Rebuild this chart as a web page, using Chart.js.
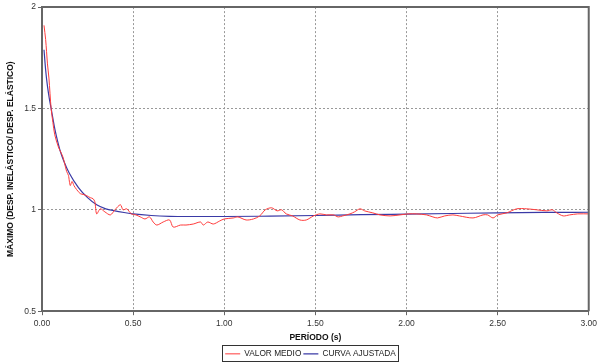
<!DOCTYPE html>
<html>
<head>
<meta charset="utf-8">
<script src="https://cdn.jsdelivr.net/npm/chart.js@4"></script>
<style>
    html, body { margin: 0; padding: 0; background: #fff; }
    #wrap { width: 600px; height: 363px; }
</style>
</head>
<body>
<div id="wrap"><canvas id="chart" width="600" height="363"></canvas></div>
<script>
// valor medio (red)
const redPeriod = [0.011, 0.02, 0.03, 0.038, 0.05, 0.06, 0.07, 0.09, 0.10, 0.115, 0.135, 0.145, 0.155, 0.165, 0.175, 0.19,
    0.21, 0.23, 0.245, 0.265, 0.28, 0.29, 0.30, 0.32, 0.345, 0.375, 0.40, 0.43, 0.445, 0.465, 0.49, 0.515, 0.54, 0.565,
    0.59, 0.61, 0.63, 0.665, 0.70, 0.72, 0.76, 0.79, 0.83, 0.87, 0.885, 0.91, 0.94, 0.975, 1.00, 1.05, 1.075, 1.12, 1.16,
    1.195, 1.225, 1.26, 1.29, 1.315, 1.34, 1.375, 1.415, 1.45, 1.49, 1.525, 1.56, 1.60, 1.625, 1.65, 1.69, 1.715, 1.745,
    1.77, 1.815, 1.855, 1.91, 1.965, 2.01, 2.055, 2.11, 2.145, 2.17, 2.21, 2.255, 2.29, 2.365, 2.42, 2.445, 2.475, 2.50,
    2.55, 2.605, 2.66, 2.715, 2.77, 2.80, 2.825, 2.86, 2.895, 2.94, 3.00];
const redValue = [1.91, 1.84, 1.72, 1.65, 1.50, 1.43, 1.37, 1.31, 1.29, 1.26, 1.19, 1.17, 1.12, 1.14, 1.12, 1.10,
    1.08, 1.075, 1.07, 1.06, 1.055, 1.04, 0.98, 1.005, 0.99, 0.975, 1.00, 1.025, 1.00, 1.005, 0.98, 0.975, 0.965, 0.955,
    0.965, 0.94, 0.925, 0.94, 0.95, 0.915, 0.925, 0.925, 0.93, 0.94, 0.925, 0.94, 0.93, 0.945, 0.955, 0.96, 0.965, 0.95, 0.955,
    0.97, 1.0, 1.01, 0.995, 1.0, 0.98, 0.97, 0.95, 0.95, 0.97, 0.98, 0.975, 0.975, 0.965, 0.97, 0.98, 0.99, 1.005,
    0.995, 0.985, 0.975, 0.97, 0.975, 0.98, 0.98, 0.975, 0.965, 0.96, 0.97, 0.975, 0.97, 0.96, 0.975, 0.975, 0.96, 0.975,
    0.985, 1.005, 1.005, 1.0, 0.995, 1.0, 0.985, 0.97, 0.975, 0.98, 0.98];

// curva ajustada (blue)
const bluePeriod = [0.011, 0.02, 0.03, 0.04, 0.05, 0.06, 0.07, 0.08, 0.10, 0.12, 0.15, 0.20, 0.25, 0.30, 0.35, 0.40,
    0.45, 0.50, 0.60, 0.70, 0.80, 1.00, 1.25, 1.50, 1.75, 2.00, 2.25, 2.50, 2.75, 3.00];
const blueValue = [1.79, 1.69, 1.61, 1.55, 1.50, 1.45, 1.40, 1.36, 1.29, 1.24, 1.18, 1.11, 1.06, 1.025, 1.005, 0.995,
    0.987, 0.98, 0.972, 0.968, 0.967, 0.967, 0.969, 0.972, 0.976, 0.979, 0.982, 0.985, 0.987, 0.988];

const xTicks = [0, 0.5, 1, 1.5, 2, 2.5, 3];
const yTicks = [0.5, 1, 1.5, 2];

const seriesNames = ['VALOR MEDIO', 'CURVA AJUSTADA'];

function toPoints(xs, ys) {
    return xs.map(function(x, i) {
        return { x: x, y: ys[i] };
    });
}

const FONT = "'Liberation Sans', Arial, sans-serif";

const framePlugin = {
    id: 'frame',
    afterLayout: function(chart) {
        // legend sits right of centre and a little lower in the original
        const lg = chart.legend;
        lg.left += 16;
        lg.right += 16;
        lg.top += 5;
        lg.bottom += 5;
    },
    afterDraw: function(chart) {
        const ctx = chart.ctx;
        const a = chart.chartArea;
        ctx.save();
        ctx.strokeStyle = '#666';
        ctx.lineWidth = 2;
        ctx.beginPath();
        ctx.moveTo(a.left, a.top);
        ctx.lineTo(a.right, a.top);
        ctx.lineTo(a.right, a.bottom);
        ctx.stroke();

        const boxes = chart.legend.legendHitBoxes;
        if (boxes && boxes.length) {
            let l = Infinity, r = -Infinity, t = Infinity, b = -Infinity;
            boxes.forEach(function(hb) {
                l = Math.min(l, hb.left);
                r = Math.max(r, hb.left + hb.width);
                t = Math.min(t, hb.top);
                b = Math.max(b, hb.top + hb.height);
            });
            ctx.strokeStyle = '#333';
            ctx.lineWidth = 1;
            ctx.strokeRect(Math.round(l) - 2.5, Math.round(t) - 4.5, Math.round(r - l) + 5, Math.round(b - t) + 8);
        }
        ctx.restore();
    }
};

const gridOpts = {
    color: '#999',
    tickLength: 4,
    tickColor: '#666',
    tickBorderDash: []
};

const ctx = document.querySelector('#chart').getContext('2d');

new Chart(ctx, {
    type: 'line',
    data: {
        datasets: [
            {
                label: seriesNames[0],
                data: toPoints(redPeriod, redValue),
                borderColor: '#ff3b3b',
                backgroundColor: '#ff3b3b',
                borderWidth: 1,
                pointRadius: 0,
                tension: 0.3
            },
            {
                label: seriesNames[1],
                data: toPoints(bluePeriod, blueValue),
                borderColor: '#3a3aa6',
                backgroundColor: '#3a3aa6',
                borderWidth: 1.2,
                pointRadius: 0,
                cubicInterpolationMode: 'monotone'
            }
        ]
    },
    options: {
        responsive: false,
        animation: false,
        layout: {
            padding: { left: 0, right: 11, top: 6, bottom: 0 }
        },
        plugins: {
            legend: {
                position: 'bottom',
                labels: {
                    usePointStyle: true,
                    pointStyle: 'line',
                    pointStyleWidth: 15,
                    padding: 2,
                    color: '#222',
                    font: { family: FONT, size: 8.3 }
                }
            },
            tooltip: { enabled: false }
        },
        scales: {
            x: {
                type: 'linear',
                min: 0,
                max: 3,
                afterBuildTicks: function(axis) {
                    axis.ticks = xTicks.map(function(v) { return { value: v }; });
                },
                afterFit: function(axis) {
                    axis.height = 31.5;
                },
                ticks: {
                    color: '#333',
                    font: { family: FONT, size: 8.5 },
                    padding: 3,
                    maxRotation: 0,
                    callback: function(v) { return Number(v).toFixed(2); }
                },
                grid: gridOpts,
                border: { color: '#666', width: 2, dash: [2, 2] },
                title: {
                    display: true,
                    text: 'PERÍODO (s)',
                    color: '#111',
                    font: { family: FONT, size: 8.5, weight: 'bold' },
                    padding: { top: 2, bottom: 0 }
                }
            },
            y: {
                min: 0.5,
                max: 2,
                afterBuildTicks: function(axis) {
                    axis.ticks = yTicks.map(function(v) { return { value: v }; });
                },
                afterFit: function(axis) {
                    axis.width = 42;
                },
                ticks: {
                    color: '#333',
                    font: { family: FONT, size: 8.5 },
                    padding: 2,
                    callback: function(v) { return String(v); }
                },
                grid: gridOpts,
                border: { color: '#666', width: 2, dash: [2, 2] },
                title: {
                    display: true,
                    text: 'MÁXIMO (DESP. INELÁSTICO/ DESP. ELÁSTICO)',
                    color: '#111',
                    font: { family: FONT, size: 8.5, weight: 'bold' },
                    padding: { top: 6, bottom: 0 }
                }
            }
        }
    },
    plugins: [framePlugin]
});
</script>
</body>
</html>
